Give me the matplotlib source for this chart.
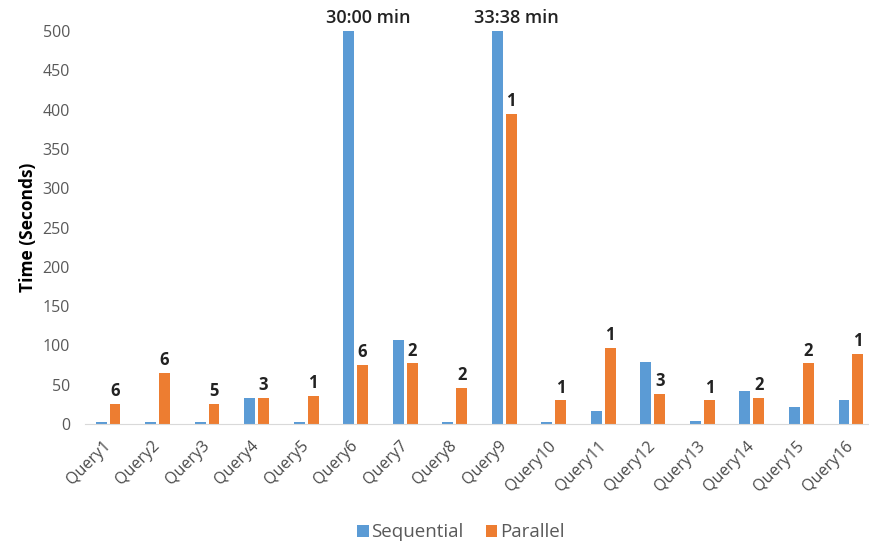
import numpy as np
import matplotlib
matplotlib.use('Agg')
import matplotlib.pyplot as plt

plt.rcParams['font.family'] = ['Open Sans', 'DejaVu Sans']

queries = ['Query%d' % i for i in range(1, 17)]
sequential = [2, 2, 2, 33, 2, 500, 107, 2, 500, 2, 17, 79, 4, 42, 22, 31]
parallel = [25, 65, 25, 33, 36, 75, 77, 46, 394, 30, 97, 38, 30, 33, 77, 89]
par_labels = ['6', '6', '5', '3', '1', '6', '2', '2', '1', '1', '1', '3', '1', '2', '2', '1']
seq_notes = {5: '30:00 min', 8: '33:38 min'}

blue = '#5B9BD5'
orange = '#ED7D31'
grey = '#595959'

fig = plt.figure(figsize=(8.7, 5.45), dpi=100)
ax = fig.add_axes([0.098, 0.222, 0.9, 0.721])

x = np.arange(len(queries))
w = 0.22
off = 0.14
ax.bar(x - off, sequential, w, color=blue, label='Sequential')
ax.bar(x + off, parallel, w, color=orange, label='Parallel')

for i, lab in enumerate(par_labels):
    ax.text(x[i] + off, parallel[i] + 5, lab, ha='center', va='bottom',
            fontsize=12, fontweight='bold', color='#222222')
# sequential bars for these two are cut at 500, real time written on top
for i, note in seq_notes.items():
    ax.text(x[i] + 0.25, sequential[i] + 5, note, ha='center', va='bottom',
            fontsize=13, fontweight='semibold', color='#222222', clip_on=False)

ax.set_xlim(-0.46, 15.35)
ax.set_ylim(0, 500)
ax.set_yticks(np.arange(0, 501, 50))
ax.set_xticks(x)
ax.set_xticklabels(queries, rotation=45, ha='right', va='center',
                   rotation_mode='anchor', fontsize=11.5, color='#4a4a4a')
ax.tick_params(axis='y', labelsize=11.5, labelcolor=grey, length=0, pad=11)
ax.tick_params(axis='x', length=0, pad=14)
for s in ['top', 'right', 'left']:
    ax.spines[s].set_visible(False)
ax.spines['bottom'].set_color('#D9D9D9')
ax.set_ylabel('Time (Seconds)', fontsize=12.5, fontweight='bold', labelpad=4)

fig.legend(loc='lower center', bbox_to_anchor=(0.53, -0.024), ncol=2, frameon=False,
           fontsize=13.5, handlelength=0.6, handleheight=0.6, handletextpad=0.15,
           columnspacing=1.2, labelcolor=grey)

fig.savefig('out.png', dpi=100)
